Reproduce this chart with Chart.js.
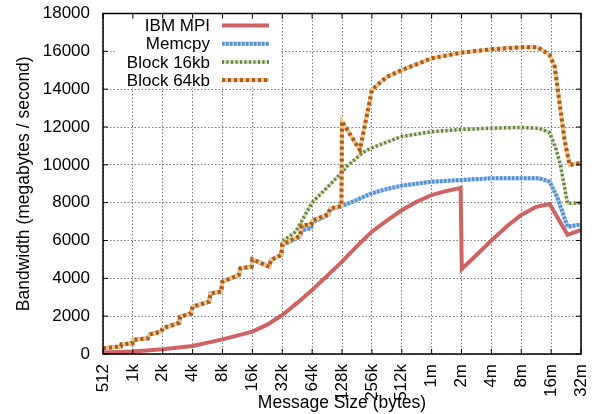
<!DOCTYPE html>
<html>
<head>
<meta charset="utf-8">
<script src="https://cdn.jsdelivr.net/npm/chart.js@4"></script>
<style>
  html, body { margin: 0; padding: 0; background: #fff; }
  canvas { display: block; }
</style>
</head>
<body>
<canvas id="bwChart" width="598" height="414"></canvas>
<script>
// x axis: message size, one unit per doubling starting at 512 bytes
const sizeLabels = ['512', '1k', '2k', '4k', '8k', '16k', '32k', '64k', '128k', '256k', '512k', '1m', '2m', '4m', '8m', '16m', '32m'];
const yTicks = [0, 2000, 4000, 6000, 8000, 10000, 12000, 14000, 16000, 18000];

const mpiX = [0, 1, 2, 3, 4, 5, 5.5, 6, 6.5, 7, 7.5, 8, 8.5, 9, 9.5, 10, 10.5, 11, 11.5, 11.97, 12.01, 12.5, 13, 13.5, 14, 14.5, 14.95, 15.55, 16];
const mpiY = [80, 130, 250, 420, 775, 1180, 1550, 2060, 2700, 3380, 4130, 4880, 5700, 6466, 7050, 7600, 8050, 8400, 8620, 8780, 4500, 5230, 6000, 6730, 7350, 7780, 7930, 6300, 6560];

// small-message staircase shared by memcpy and the block copies
const stepX = [0, 0.6, 0.62, 0.98, 1.0, 1.5, 1.57, 1.95, 2.0, 2.55, 2.58, 2.95, 3.0, 3.55, 3.6, 3.95, 4.0, 4.55, 4.6, 4.97, 5.0, 5.57, 5.62, 5.97];
const stepY = [300, 400, 510, 560, 740, 830, 1040, 1180, 1360, 1650, 1970, 2150, 2500, 2760, 3200, 3290, 3820, 4180, 4530, 4610, 5000, 4610, 4970, 5230];

const memcpyX = stepX.concat([6.0, 6.6, 6.65, 6.97, 7.0, 7.55, 7.6, 7.98, 8.5, 9, 9.5, 10, 11, 12, 13, 14, 14.6, 14.95, 15.2, 15.55, 16]);
const memcpyY = stepY.concat([5750, 6200, 6550, 6650, 6950, 7350, 7650, 7800, 8150, 8500, 8720, 8900, 9110, 9200, 9290, 9290, 9290, 9110, 8300, 6730, 6850]);

const block16X = stepX.concat([6.0, 6.45, 7.0, 8.0, 8.15, 8.7, 9, 10, 11, 12, 13, 14, 14.6, 14.95, 15.15, 15.3, 15.55, 16]);
const block16Y = stepY.concat([5940, 6470, 8000, 9600, 9900, 10650, 10900, 11500, 11750, 11870, 11940, 11980, 11930, 11700, 10900, 10080, 7960, 7990]);

const block64X = stepX.concat([6.0, 6.6, 6.65, 6.97, 7.0, 7.55, 7.6, 7.98, 8.0, 8.6, 9.0, 9.25, 9.5, 10, 11, 12, 13, 14, 14.55, 14.95, 15.12, 15.45, 15.62, 16]);
const block64Y = stepY.concat([5800, 6250, 6800, 6850, 7050, 7400, 7700, 7820, 12300, 10780, 13960, 14310, 14650, 15010, 15630, 15930, 16110, 16210, 16210, 15810, 15190, 11310, 9990, 10100]);

function pts(xs, ys) {
    return xs.map((x, i) => ({ x: x, y: ys[i] }));
}

// series drawn as a pale solid line under a dark dashed one
const series = [
    { label: 'IBM MPI', xs: mpiX, ys: mpiY, color: '#d06262', under: null, width: 4, dash: [] },
    { label: 'Memcpy', xs: memcpyX, ys: memcpyY, color: '#5592d2', under: '#b2cfee', width: 4, dash: [2.5, 1.5] },
    { label: 'Block 16kb', xs: block16X, ys: block16Y, color: '#62803a', under: '#d3dcbd', width: 3.5, dash: [2, 2.5] },
    { label: 'Block 64kb', xs: block64X, ys: block64Y, color: '#b05a10', under: '#ebc69a', width: 4, dash: [3, 3] }
];

const datasets = [];
let order = 2 * series.length;
series.forEach(s => {
    const data = pts(s.xs, s.ys);
    if (s.under) {
        datasets.push({ label: s.label + ' base', data: data, borderColor: s.under, borderWidth: s.width,
            pointRadius: 0, tension: 0, order: order-- });
    }
    datasets.push({ label: s.label, data: data, borderColor: s.color, borderWidth: s.width, borderDash: s.dash,
        pointRadius: 0, tension: 0, order: order-- });
});

const frame = {
    id: 'frame',
    beforeDatasetsDraw(chart) {
        const ctx = chart.ctx;
        const a = chart.chartArea;
        ctx.save();
        ctx.fillStyle = '#fff';
        ctx.fillRect(a.left + 13, a.top + 4, 164, 70);
        ctx.restore();
    },
    afterDatasetsDraw(chart) {
        const ctx = chart.ctx;
        const a = chart.chartArea;
        const xs = chart.scales.x, ys = chart.scales.y;
        ctx.save();
        ctx.strokeStyle = '#000';
        ctx.lineWidth = 1.5;
        ctx.strokeRect(a.left, a.top, a.right - a.left, a.bottom - a.top);
        ctx.lineWidth = 1;
        ctx.beginPath();
        yTicks.forEach(v => {
            const y = ys.getPixelForValue(v);
            ctx.moveTo(a.left, y); ctx.lineTo(a.left + 5, y);
            ctx.moveTo(a.right, y); ctx.lineTo(a.right - 5, y);
        });
        sizeLabels.forEach((l, i) => {
            const x = xs.getPixelForValue(i);
            ctx.moveTo(x, a.bottom); ctx.lineTo(x, a.bottom - 5);
            ctx.moveTo(x, a.top); ctx.lineTo(x, a.top + 5);
        });
        ctx.stroke();

        // key, text right aligned with the sample line after it
        ctx.font = '17px "Liberation Sans", Arial, sans-serif';
        ctx.textAlign = 'right';
        ctx.textBaseline = 'middle';
        series.forEach((s, i) => {
            const y = a.top + 12 + i * 18.2;
            ctx.fillStyle = '#000';
            ctx.fillText(s.label, a.left + 107, y + 1);
            ctx.lineWidth = s.width;
            if (s.under) {
                ctx.setLineDash([]);
                ctx.strokeStyle = s.under;
                ctx.beginPath(); ctx.moveTo(a.left + 119, y); ctx.lineTo(a.left + 166, y); ctx.stroke();
            }
            ctx.setLineDash(s.dash);
            ctx.strokeStyle = s.color;
            ctx.beginPath(); ctx.moveTo(a.left + 119, y); ctx.lineTo(a.left + 166, y); ctx.stroke();
        });
        ctx.restore();
    }
};

Chart.defaults.font.family = '"Liberation Sans", Arial, sans-serif';
Chart.defaults.font.size = 17;
Chart.defaults.color = '#000';

new Chart(document.getElementById('bwChart'), {
    type: 'line',
    data: { datasets: datasets },
    options: {
        responsive: false,
        animation: false,
        devicePixelRatio: 1,
        layout: { padding: { left: 0, right: 17, top: 13.5, bottom: 0 } },
        plugins: { legend: { display: false }, tooltip: { enabled: false } },
        scales: {
            x: {
                type: 'linear',
                min: 0,
                max: 16,
                afterFit(s) { s.height = 60; s.paddingLeft = 0; s.paddingRight = 0; },
                ticks: {
                    stepSize: 1,
                    autoSkip: false,
                    minRotation: 90,
                    maxRotation: 90,
                    padding: 10,
                    callback: v => sizeLabels[v]
                },
                grid: { color: '#7a7a7a', lineWidth: 1, drawTicks: false },
                border: { display: false, dash: [1.5, 2] },
                title: { display: true, text: 'Message Size (bytes)', font: { size: 17.5 }, padding: { top: 0, bottom: 0 } }
            },
            y: {
                min: 0,
                max: 18000,
                afterFit(s) { s.width = 103; s.paddingTop = 0; s.paddingBottom = 0; },
                afterBuildTicks(s) { s.ticks = yTicks.map(v => ({ value: v })); },
                ticks: { padding: 13, callback: v => String(v) },
                grid: { color: '#7a7a7a', lineWidth: 1, drawTicks: false },
                border: { display: false, dash: [1.5, 2] },
                title: { display: true, text: 'Bandwidth (megabytes / second)', font: { size: 17.5 }, padding: { top: 13.5, bottom: 0 } }
            }
        }
    },
    plugins: [frame]
});
</script>
</body>
</html>
